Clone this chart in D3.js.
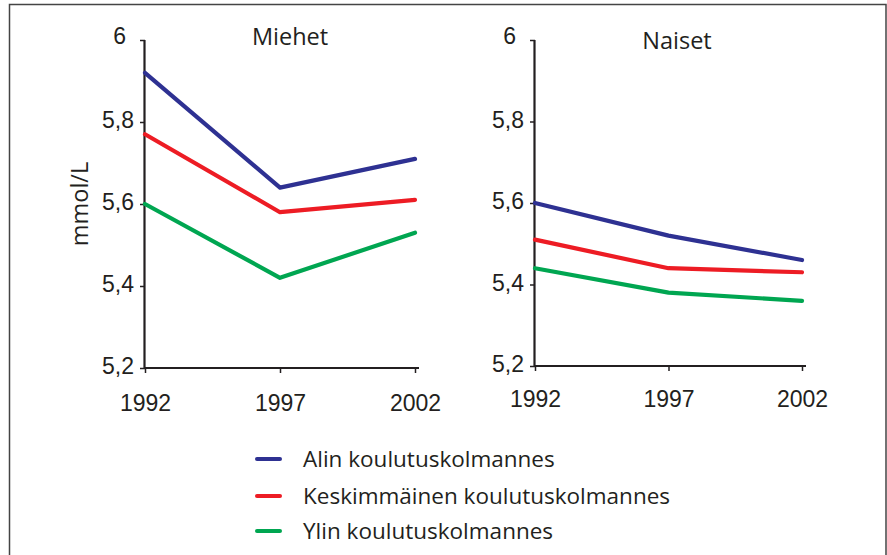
<!DOCTYPE html>
<html>
<head>
<meta charset="utf-8">
<script src="https://cdn.jsdelivr.net/npm/d3@7"></script>
<style>
  body { margin: 0; background: #fff; }
  svg { display: block; font-family: "Open Sans", sans-serif; }
</style>
</head>
<body>
<svg id="chart" width="887" height="555"></svg>
<script>
const years = [1992, 1997, 2002];
const yTicks = [5.2, 5.4, 5.6, 5.8, 6];
const seriesNames = ["Alin koulutuskolmannes", "Keskimmäinen koulutuskolmannes", "Ylin koulutuskolmannes"];
const seriesColors = ["#2e3192", "#ed1c24", "#00a651"];

// miehet
const menLow = [5.92, 5.64, 5.71];
const menMid = [5.77, 5.58, 5.61];
const menHigh = [5.60, 5.42, 5.53];
// naiset
const womenLow = [5.60, 5.52, 5.46];
const womenMid = [5.51, 5.44, 5.43];
const womenHigh = [5.44, 5.38, 5.36];

const svg = d3.select("#chart");
const ink = "#231f20";

// frame, open at the bottom
svg.append("path")
  .attr("d", "M9.5,560 V4.5 H886 V560")
  .attr("fill", "none")
  .attr("stroke", "#444")
  .attr("stroke-width", 1.5);

function panel(title, data, left, right, top, bottom, titleX, titleY, xPad) {
  const x = d3.scalePoint().domain(years).range([left, right]);
  const y = d3.scaleLinear().domain([5.2, 6]).range([bottom, top]);
  const g = svg.append("g");

  const yAxis = g.append("g")
    .attr("transform", `translate(${left},0)`)
    .call(d3.axisLeft(y).tickValues(yTicks).tickSize(5).tickPadding(6)
      .tickFormat(d => d3.format(".1f")(d).replace(".", ",").replace(",0", "")));
  const xAxis = g.append("g")
    .attr("transform", `translate(0,${bottom})`)
    .call(d3.axisBottom(x).tickSize(5).tickPadding(xPad).tickFormat(d3.format("d")));

  [yAxis, xAxis].forEach(a => {
    a.select(".domain").attr("stroke", ink).attr("stroke-width", 2.2);
    a.selectAll(".tick line").attr("stroke", ink).attr("stroke-width", 1.5);
    a.selectAll("text").attr("fill", ink).attr("font-size", 23);
  });
  yAxis.select(".domain").attr("d", `M-0.5,${top}V${bottom}`);
  yAxis.selectAll(".tick text").attr("dy", "0.25em")
    .filter(d => d === 6).attr("x", -19).attr("dy", "0.15em");
  xAxis.select(".domain").attr("d", `M${left - 1},0H${right + 4}`);
  xAxis.selectAll("text").attr("dy", "0.71em");

  g.append("text")
    .attr("x", titleX)
    .attr("y", titleY)
    .attr("text-anchor", "middle")
    .attr("font-size", 23.5)
    .attr("fill", ink)
    .text(title);

  const line = d3.line().x((d, i) => x(years[i])).y(d => y(d));
  data.forEach((vals, k) => {
    g.append("path")
      .datum(vals)
      .attr("d", line)
      .attr("fill", "none")
      .attr("stroke", seriesColors[k])
      .attr("stroke-width", 4.2)
      .attr("stroke-linecap", "round")
      .attr("stroke-linejoin", "round");
  });
  return g;
}

panel("Miehet", [menLow, menMid, menHigh], 145, 415, 40, 368, 290, 45, 22);
panel("Naiset", [womenLow, womenMid, womenHigh], 535, 802, 40, 366, 677, 49, 20);

svg.append("text")
  .attr("transform", "translate(88,204) rotate(-90)")
  .attr("text-anchor", "middle")
  .attr("font-size", 23.5)
  .attr("fill", ink)
  .text("mmol/L");

// legend
const legend = svg.append("g");
const legendY = [459, 496, 531];
seriesNames.forEach((name, i) => {
  legend.append("line")
    .attr("x1", 257).attr("x2", 280)
    .attr("y1", legendY[i]).attr("y2", legendY[i])
    .attr("stroke", seriesColors[i])
    .attr("stroke-width", 4)
    .attr("stroke-linecap", "round");
  legend.append("text")
    .attr("x", 303)
    .attr("y", legendY[i] + 8)
    .attr("font-size", 22.5)
    .attr("fill", ink)
    .text(name);
});
</script>
</body>
</html>
